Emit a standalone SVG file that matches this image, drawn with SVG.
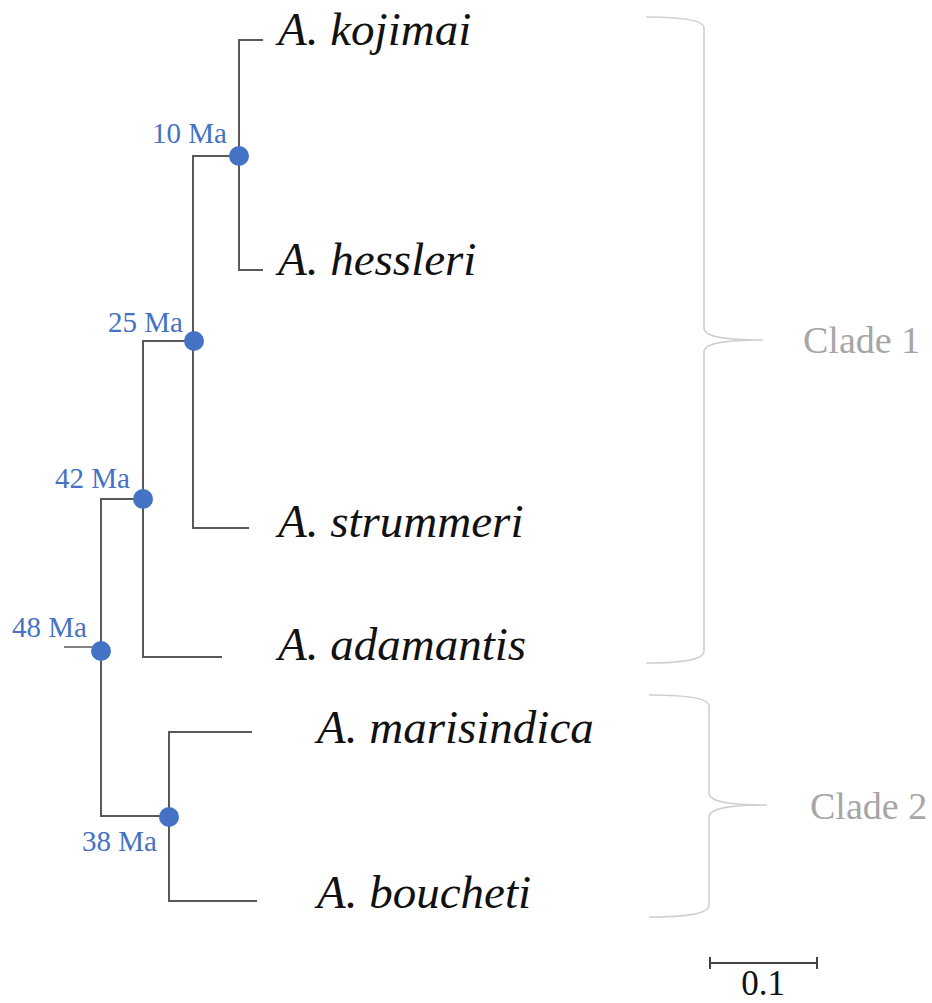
<svg xmlns="http://www.w3.org/2000/svg" width="932" height="1003" viewBox="0 0 932 1003">
<style>
.br{fill:none;stroke:#595959;stroke-width:2;stroke-linecap:square}
.nd{fill:#4472C4}
text{font-family:"Liberation Serif","Times New Roman","DejaVu Serif",serif}
.ma{font-size:29px;fill:#4472C4}
.sp{font-style:italic;font-size:47px;fill:#111}
.cl{font-size:38px;fill:#a6a6a6}
.brace{fill:none;stroke:#d0d0d0;stroke-width:1.6}
</style>
<rect width="932" height="1003" fill="#fff"/>
<g id="connectors">
<path class="br" d="M262,40 H239 V270 H262"/>
<path class="br" d="M239,156 H193 V528 H248"/>
<path class="br" d="M193,341 H143 V657 H221"/>
<path class="br" d="M143,499 H101 V816 H169"/>
<path class="br" d="M251,732 H169 V901 H256"/>
<path d="M64,647 H101" stroke="#595959" stroke-width="1.5" fill="none"/>
</g>
<g id="node-10Ma"><circle class="nd" cx="239" cy="156" r="10"/><text class="ma" x="227" y="143" text-anchor="end">10 Ma</text></g>
<g id="node-25Ma"><circle class="nd" cx="194" cy="341" r="10"/><text class="ma" x="183" y="332" text-anchor="end">25 Ma</text></g>
<g id="node-42Ma"><circle class="nd" cx="143" cy="499" r="10"/><text class="ma" x="130" y="488" text-anchor="end">42 Ma</text></g>
<g id="node-48Ma"><circle class="nd" cx="101" cy="651" r="10"/><text class="ma" x="87" y="637" text-anchor="end">48 Ma</text></g>
<g id="node-38Ma"><circle class="nd" cx="169" cy="817" r="10"/><text class="ma" x="157" y="851" text-anchor="end">38 Ma</text></g>
<g id="taxon-kojimai"><text class="sp" x="278" y="45">A. kojimai</text></g>
<g id="taxon-hessleri"><text class="sp" x="278" y="275">A. hessleri</text></g>
<g id="taxon-strummeri"><text class="sp" x="278" y="537">A. strummeri</text></g>
<g id="taxon-adamantis"><text class="sp" x="278" y="660">A. adamantis</text></g>
<g id="taxon-marisindica"><text class="sp" x="317" y="743">A. marisindica</text></g>
<g id="taxon-boucheti"><text class="sp" x="317" y="908">A. boucheti</text></g>
<g id="clade1">
<path class="brace" d="M646,17 C682,17 704,20 704,28 L704,328 C704,336 720,340 763,340 C720,340 704,344 704,352 L704,651 C704,660 682,663 646,663"/>
<text class="cl" x="803" y="353">Clade 1</text>
</g>
<g id="clade2">
<path class="brace" d="M649,695 C686,695 709,698 709,706 L709,793 C709,801 725,805 767,805 C725,805 709,809 709,817 L709,905 C709,914 686,917 649,917"/>
<text class="cl" x="810" y="819">Clade 2</text>
</g>
<g id="scale">
<path d="M710,963 H817 M710,957 V969 M817,957 V969" stroke="#444" stroke-width="2" fill="none"/>
<text x="763" y="995" text-anchor="middle" font-size="35" fill="#111">0.1</text>
</g>
</svg>
